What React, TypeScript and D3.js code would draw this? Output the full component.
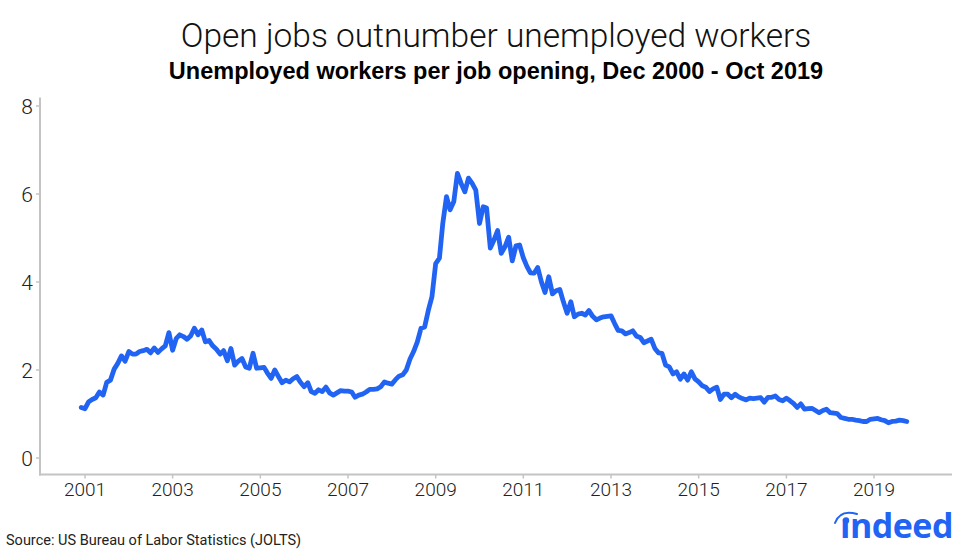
import React, { useEffect, useRef } from "react";
import * as d3 from "d3";

// Monthly ratio of unemployed workers per job opening, starting Dec 2000
const startYear = 2000;
const startMonth = 11; // December (0-based)
const ratios: number[] = [
  // 2000 Dec
  1.15,
  // 2001
  1.12, 1.28, 1.33, 1.37, 1.5, 1.43, 1.72, 1.77, 2.02, 2.15, 2.32, 2.2,
  // 2002
  2.42, 2.36, 2.36, 2.42, 2.44, 2.47, 2.39, 2.5, 2.4, 2.48, 2.55, 2.85,
  // 2003
  2.45, 2.72, 2.8, 2.76, 2.7, 2.78, 2.95, 2.8, 2.91, 2.64, 2.67, 2.55,
  // 2004
  2.47, 2.36, 2.44, 2.21, 2.49, 2.11, 2.2, 2.26, 2.07, 2.04, 2.38, 2.04,
  // 2005
  2.05, 2.06, 1.93, 1.81, 2.0, 1.85, 1.71, 1.77, 1.73, 1.8, 1.85, 1.72,
  // 2006
  1.62, 1.71, 1.51, 1.47, 1.55, 1.51, 1.61, 1.48, 1.43, 1.48, 1.53, 1.52,
  // 2007
  1.52, 1.5, 1.38, 1.43, 1.45, 1.5, 1.56, 1.56, 1.57, 1.62, 1.73, 1.7,
  // 2008
  1.68, 1.78, 1.86, 1.89, 2.0, 2.25, 2.42, 2.64, 2.95, 2.98, 3.36, 3.67,
  // 2009
  4.42, 4.54, 5.33, 5.94, 5.64, 5.83, 6.47, 6.24, 6.05, 6.36, 6.24, 6.09,
  // 2010
  5.33, 5.71, 5.68, 4.77, 4.95, 5.17, 4.65, 4.8, 5.02, 4.48, 4.82, 4.84,
  // 2011
  4.55, 4.35, 4.21, 4.2, 4.33, 4.0, 3.76, 4.12, 3.73, 3.8, 3.83, 3.55,
  // 2012
  3.29, 3.55, 3.21, 3.27, 3.29, 3.25, 3.35, 3.22, 3.14, 3.18, 3.21, 3.22,
  // 2013
  3.23, 3.05, 2.9, 2.89, 2.82, 2.85, 2.89, 2.77, 2.74, 2.62, 2.66, 2.7,
  // 2014
  2.49, 2.39, 2.38, 2.11, 2.07, 1.91, 1.96, 1.79, 1.91, 1.77, 1.96, 1.8,
  // 2015
  1.73, 1.64, 1.61, 1.51, 1.57, 1.61, 1.33, 1.45, 1.45, 1.37, 1.45, 1.39,
  // 2016
  1.35, 1.32, 1.36, 1.35, 1.36, 1.37, 1.27, 1.38, 1.38, 1.41, 1.33, 1.3,
  // 2017
  1.36, 1.3, 1.24, 1.15, 1.23, 1.11, 1.12, 1.13, 1.08, 1.03, 1.08, 1.11,
  // 2018
  1.03, 1.02, 1.01, 0.92, 0.9, 0.88, 0.88, 0.86, 0.85, 0.83, 0.83, 0.88,
  // 2019 (Jan - Oct)
  0.89, 0.9, 0.87, 0.85, 0.8, 0.83, 0.84, 0.86, 0.85, 0.83,
];

const xTickYears = [2001, 2003, 2005, 2007, 2009, 2011, 2013, 2015, 2017, 2019];
const yTicks = [0, 2, 4, 6, 8];

const title = "Open jobs outnumber unemployed workers";
const subtitle = "Unemployed workers per job opening, Dec 2000 - Oct 2019";
const source = "Source: US Bureau of Labor Statistics (JOLTS)";

const W = 974;
const H = 552;
const BLUE = "#2164f3";
const AXIS = "#c4c4c4";

export default function App() {
  const ref = useRef<SVGSVGElement | null>(null);

  useEffect(() => {
    document.body.style.margin = "0";
    const svg = d3.select(ref.current);
    svg.selectAll("*").remove();

    const data = ratios.map((v, i) => ({
      date: new Date(startYear, startMonth + i, 1),
      value: v,
    }));

    const x = d3
      .scaleTime()
      .domain([new Date(2001, 0, 1), new Date(2019, 0, 1)])
      .range([85, 874]);
    const y = d3.scaleLinear().domain([0, 8]).range([458, 106]);

    const axisLeftX = 40;
    const axisBottomY = 474.5;

    // Title & subtitle
    svg
      .append("text")
      .attr("x", 496)
      .attr("y", 47)
      .attr("text-anchor", "middle")
      .attr("font-family", "Roboto, 'Liberation Sans', sans-serif")
      .attr("font-weight", 300)
      .attr("font-size", 33.5)
      .attr("fill", "#111")
      .text(title);

    svg
      .append("text")
      .attr("x", 496)
      .attr("y", 78.5)
      .attr("text-anchor", "middle")
      .attr("font-family", "'Liberation Sans', Arial, sans-serif")
      .attr("font-weight", 700)
      .attr("font-size", 23.5)
      .attr("fill", "#000")
      .text(subtitle);

    // Axes lines
    svg
      .append("line")
      .attr("x1", axisLeftX)
      .attr("x2", axisLeftX)
      .attr("y1", 97.5)
      .attr("y2", axisBottomY + 1)
      .attr("stroke", AXIS)
      .attr("stroke-width", 2);
    svg
      .append("line")
      .attr("x1", axisLeftX - 1)
      .attr("x2", 952)
      .attr("y1", axisBottomY)
      .attr("y2", axisBottomY)
      .attr("stroke", AXIS)
      .attr("stroke-width", 2);

    // Y ticks and labels
    const yg = svg.append("g");
    yTicks.forEach((t) => {
      yg.append("line")
        .attr("x1", axisLeftX - 4)
        .attr("x2", axisLeftX)
        .attr("y1", y(t))
        .attr("y2", y(t))
        .attr("stroke", AXIS)
        .attr("stroke-width", 1.5);
      yg.append("text")
        .attr("x", axisLeftX - 7)
        .attr("y", y(t))
        .attr("dy", "0.36em")
        .attr("text-anchor", "end")
        .attr("font-family", "Roboto, 'Liberation Sans', sans-serif")
        .attr("font-weight", 300)
        .attr("font-size", 21)
        .attr("fill", "#222")
        .text(String(t));
    });

    // X ticks and labels
    const xg = svg.append("g");
    xTickYears.forEach((yr) => {
      const px = x(new Date(yr, 0, 1));
      xg.append("line")
        .attr("x1", px)
        .attr("x2", px)
        .attr("y1", axisBottomY)
        .attr("y2", axisBottomY + 4)
        .attr("stroke", AXIS)
        .attr("stroke-width", 1.5);
      xg.append("text")
        .attr("x", px)
        .attr("y", 496)
        .attr("text-anchor", "middle")
        .attr("font-family", "Roboto, 'Liberation Sans', sans-serif")
        .attr("font-weight", 300)
        .attr("font-size", 19)
        .attr("fill", "#222")
        .text(String(yr));
    });

    // Line
    const line = d3
      .line<{ date: Date; value: number }>()
      .x((d) => x(d.date))
      .y((d) => y(d.value));
    svg
      .append("path")
      .datum(data)
      .attr("d", line)
      .attr("fill", "none")
      .attr("stroke", BLUE)
      .attr("stroke-width", 4.8)
      .attr("stroke-linejoin", "round")
      .attr("stroke-linecap", "round");

    // Source
    svg
      .append("text")
      .attr("x", 6)
      .attr("y", 545)
      .attr("font-family", "Roboto, 'Liberation Sans', sans-serif")
      .attr("font-weight", 400)
      .attr("font-size", 14.5)
      .attr("fill", "#222")
      .text(source);

    // Indeed logo
    const logo = svg.append("g");
    logo
      .append("text")
      .attr("x", 840)
      .attr("y", 538)
      .attr("font-family", "'Open Sans', Roboto, sans-serif")
      .attr("font-weight", 700)
      .attr("font-size", 34)
      .attr("letter-spacing", -0.5)
      .attr("fill", BLUE)
      .text("\u0131ndeed");
    logo
      .append("circle")
      .attr("cx", 846)
      .attr("cy", 520.5)
      .attr("r", 3.2)
      .attr("fill", BLUE);
    logo
      .append("path")
      .attr("d", "M835,523 Q840,509 857,514")
      .attr("fill", "none")
      .attr("stroke", BLUE)
      .attr("stroke-width", 2)
      .attr("stroke-linecap", "round");
  }, []);

  return (
    <svg
      ref={ref}
      width={W}
      height={H}
      style={{ position: "absolute", left: 0, top: 0, display: "block", background: "#fff" }}
    />
  );
}
